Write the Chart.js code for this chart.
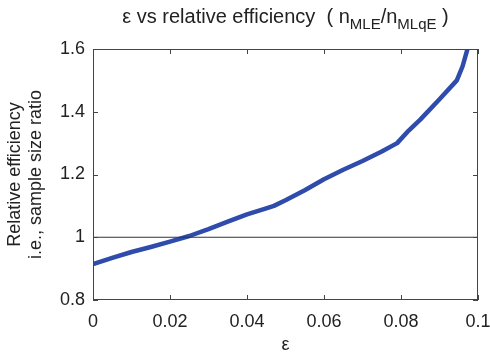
<!DOCTYPE html>
<html>
<head>
<meta charset="utf-8">
<script src="https://cdn.jsdelivr.net/npm/chart.js@4/dist/chart.umd.min.js"></script>
<style>
  body { margin: 0; background: #fff; }
  #wrap { position: relative; width: 490px; height: 356px; }
  #title {
    position: absolute; left: 93px; width: 385px; top: 5px;
    text-align: center; font-family: "Liberation Sans", Arial, sans-serif;
    font-size: 20px; color: #222; white-space: nowrap;
  }
  #title sub { font-size: 15px; vertical-align: -6px; }
</style>
</head>
<body>
<div id="wrap">
  <div id="title">&epsilon; vs relative efficiency &nbsp;( n<sub>MLE</sub>/n<sub>MLqE</sub> )</div>
  <canvas id="c" width="490" height="356"></canvas>
</div>
<script>
// valori
const epsValues = [0, 0.005, 0.01, 0.015, 0.02, 0.025, 0.03, 0.035, 0.04, 0.045, 0.047,
                   0.05, 0.055, 0.06, 0.065, 0.07, 0.075, 0.079, 0.082, 0.085, 0.09,
                   0.0945, 0.096, 0.0975];
const efficiency = [0.914, 0.934, 0.953, 0.969, 0.986, 1.004, 1.026, 1.050, 1.073, 1.092, 1.100,
                    1.118, 1.150, 1.185, 1.215, 1.243, 1.273, 1.300, 1.340, 1.375, 1.440,
                    1.500, 1.545, 1.610];
const refLineX = [0, 0.1];
const refLineY = [1, 1];
const xTicks = [0, 0.02, 0.04, 0.06, 0.08, 0.1];
const xTickLabels = ['0', '0.02', '0.04', '0.06', '0.08', '0.1'];
const yTicks = [0.8, 1, 1.2, 1.4, 1.6];
const yTickLabels = ['0.8', '1', '1.2', '1.4', '1.6'];

const font = { family: '"Liberation Sans", Arial, sans-serif', size: 18 };

// chenar + tick-uri spre interior, ca in MATLAB
const boxPlugin = {
  id: 'box',
  afterDraw(chart) {
    const { ctx, chartArea: a, scales } = chart;
    ctx.save();
    ctx.strokeStyle = '#444';
    ctx.lineWidth = 1;
    ctx.strokeRect(a.left + 0.5, a.top + 0.5, a.right - a.left - 1, a.bottom - a.top - 1);
    const len = 5;
    ctx.beginPath();
    xTicks.forEach(v => {
      const px = Math.round(scales.x.getPixelForValue(v)) + 0.5;
      ctx.moveTo(px, a.bottom); ctx.lineTo(px, a.bottom - len);
      ctx.moveTo(px, a.top); ctx.lineTo(px, a.top + len);
    });
    yTicks.forEach(v => {
      const py = Math.round(scales.y.getPixelForValue(v)) + 0.5;
      ctx.moveTo(a.left, py); ctx.lineTo(a.left + len, py);
      ctx.moveTo(a.right, py); ctx.lineTo(a.right - len, py);
    });
    ctx.stroke();
    ctx.restore();
  }
};

new Chart(document.getElementById('c'), {
  type: 'scatter',
  data: {
    datasets: [{
      data: refLineX.map((x, i) => ({ x: x, y: refLineY[i] })),
      showLine: true,
      borderColor: '#333',
      borderWidth: 1,
      pointRadius: 0
    }, {
      data: epsValues.map((x, i) => ({ x: x, y: efficiency[i] })),
      showLine: true,
      borderColor: '#2f4cac',
      borderWidth: 4.5,
      pointRadius: 0,
      borderJoinStyle: 'round',
      borderCapStyle: 'round'
    }]
  },
  options: {
    responsive: false,
    animation: false,
    layout: { padding: { top: 49, right: 12, left: 0, bottom: 0 } },
    plugins: { legend: { display: false }, tooltip: { enabled: false } },
    scales: {
      x: {
        type: 'linear', min: 0, max: 0.1,
        afterBuildTicks: s => { s.ticks = xTicks.map(v => ({ value: v })); },
        afterFit: s => { s.height = 56; s.paddingLeft = 0; s.paddingRight = 0; },
        grid: { display: false, drawTicks: false },
        border: { display: false },
        ticks: { font: font, color: '#222', padding: 11, maxRotation: 0,
                 callback: (v, i) => xTickLabels[i] },
        title: { display: true, text: 'ε', font: font, color: '#222', padding: { top: 2, bottom: 0 } }
      },
      y: {
        min: 0.8, max: 1.6,
        afterBuildTicks: s => { s.ticks = yTicks.map(v => ({ value: v })); },
        afterFit: s => { s.width = 93; s.paddingTop = 0; s.paddingBottom = 0; },
        grid: { display: false, drawTicks: false },
        border: { display: false },
        ticks: { font: font, color: '#222', padding: 8,
                 callback: (v, i) => yTickLabels[i] },
        title: { display: true, text: ['Relative efficiency', 'i.e., sample size ratio'],
                 font: font, color: '#222', padding: { bottom: 2 } }
      }
    }
  },
  plugins: [boxPlugin]
});
</script>
</body>
</html>
